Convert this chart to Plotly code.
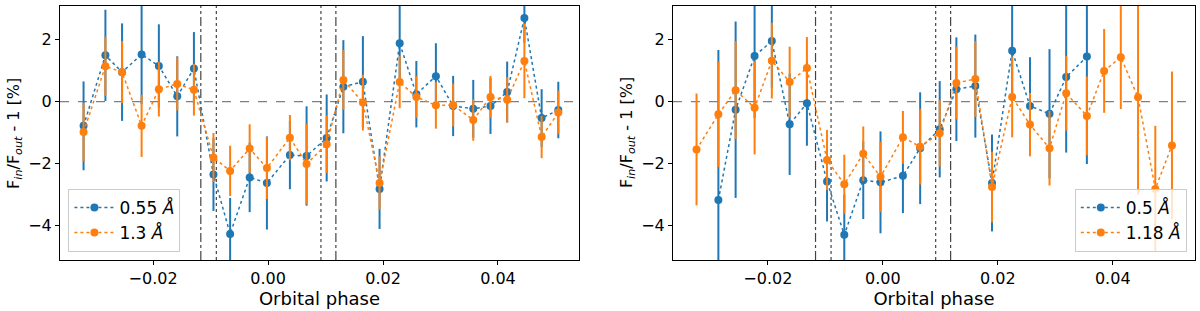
import plotly.graph_objects as go
from plotly.subplots import make_subplots

# ---------- data: left panel ----------
phase_L = [-0.0321, -0.0283, -0.0254, -0.0220, -0.0190, -0.0158, -0.0129, -0.0095, -0.0066,
           -0.0032, -0.0002, 0.0038, 0.0067, 0.0102, 0.0131, 0.0165, 0.0194, 0.0229, 0.0258,
           0.0292, 0.0322, 0.0357, 0.0387, 0.0416, 0.0446, 0.0476, 0.0505]
blue_L = [-0.78, 1.49, 0.95, 1.52, 1.15, 0.17, 1.07, -2.35, -4.26, -2.44, -2.62, -1.72, -1.75,
          -1.17, 0.48, 0.64, -2.81, 1.88, 0.24, 0.82, -0.14, -0.23, -0.14, 0.31, 2.69, -0.53, -0.27]
blue_L_err = [1.43, 1.47, 1.57, 1.60, 1.34, 1.29, 1.17, 1.17, 1.16, 1.12, 1.50, 1.10, 1.60,
              1.40, 1.50, 1.47, 1.29, 1.30, 1.07, 1.06, 0.97, 0.93, 0.90, 0.98, 0.80, 0.93, 0.91]
orange_L = [-0.98, 1.14, 0.95, -0.78, 0.40, 0.57, 0.38, -1.80, -2.23, -1.51, -2.14, -1.16, -2.01,
            -1.37, 0.70, -0.03, -2.62, 0.63, 0.15, -0.12, -0.11, -0.59, 0.15, 0.06, 1.31, -1.14, -0.35]
orange_L_err = [0.94, 0.95, 1.00, 1.00, 0.88, 0.86, 0.83, 0.79, 0.81, 0.78, 1.00, 0.73, 1.30,
                0.93, 0.96, 0.90, 0.86, 0.84, 0.67, 0.75, 0.69, 0.67, 0.68, 0.73, 1.20, 0.68, 0.70]

# ---------- data: right panel ----------
phase_Rb = [-0.0286, -0.0256, -0.0223, -0.0193, -0.0162, -0.0132, -0.0097, -0.0067, -0.0034,
            -0.0004, 0.0035, 0.0065, 0.0099, 0.0128, 0.0161, 0.0190, 0.0225, 0.0256, 0.0290,
            0.0319, 0.0355]
blue_R = [-3.17, -0.26, 1.47, 1.95, -0.73, -0.05, -2.57, -4.29, -2.53, -2.60, -2.39, -1.50,
          -0.89, 0.40, 0.50, -2.62, 1.64, -0.14, -0.39, 0.79, 1.45]
blue_R_err = [4.83, 2.84, 2.00, 1.50, 1.63, 1.37, 1.29, 1.30, 1.25, 1.64, 1.20, 1.80,
              1.55, 1.67, 1.66, 1.56, 1.50, 1.57, 2.08, 2.43, 3.46]
phase_Ro = [-0.0324, -0.0286, -0.0256, -0.0223, -0.0193, -0.0162, -0.0132, -0.0097, -0.0067,
            -0.0034, -0.0004, 0.0035, 0.0065, 0.0099, 0.0128, 0.0161, 0.0190, 0.0225, 0.0256,
            0.0290, 0.0319, 0.0355, 0.0385, 0.0414, 0.0444, 0.0474, 0.0503]
orange_R = [-1.54, -0.41, 0.37, -0.20, 1.32, 0.63, 1.08, -1.88, -2.66, -1.68, -2.42, -1.15,
            -1.45, -1.02, 0.60, 0.73, -2.75, 0.15, -0.74, -1.50, 0.27, -0.46, 0.99, 1.43,
            0.14, -2.81, -1.41]
orange_R_err = [1.80, 1.70, 1.58, 1.50, 1.22, 1.14, 1.00, 0.97, 0.95, 0.88, 1.13, 0.85,
                1.22, 1.07, 1.17, 1.22, 1.14, 1.30, 1.02, 1.20, 1.20, 1.27, 1.35, 1.67,
                3.14, 2.03, 2.38]

labels_L = ["0.55 <i>Å</i>", "1.3 <i>Å</i>"]
labels_R = ["0.5 <i>Å</i>", "1.18 <i>Å</i>"]
y_title = "F<i><sub>in</sub></i>/F<i><sub>out</sub></i> - 1 [%]"

contact_dashdot = [-0.0117, 0.0118]   # T1 / T4
contact_dotted = [-0.0090, 0.0092]    # T2 / T3

x_ticks = [-0.02, 0.00, 0.02, 0.04]
y_ticks = [-4, -2, 0, 2]

BLUE = "#1f77b4"
ORANGE = "#ff7f0e"
FONT = "DejaVu Sans"

fig = make_subplots(rows=1, cols=2)

def add_series(x, y, err, color, name, col, legend):
    fig.add_trace(go.Scatter(
        x=x, y=y, name=name, mode="lines+markers",
        line=dict(color=color, width=1.5, dash="dot"),
        marker=dict(color=color, size=8),
        error_y=dict(type="data", array=err, visible=True, color=color, thickness=2, width=0),
        legend=legend,
    ), row=1, col=col)

add_series(phase_L, blue_L, blue_L_err, BLUE, labels_L[0], 1, "legend")
add_series(phase_L, orange_L, orange_L_err, ORANGE, labels_L[1], 1, "legend")
add_series(phase_Rb, blue_R, blue_R_err, BLUE, labels_R[0], 2, "legend2")
add_series(phase_Ro, orange_R, orange_R_err, ORANGE, labels_R[1], 2, "legend2")

for col, xr in [(1, "x"), (2, "x2")]:
    yr = "y" if col == 1 else "y2"
    fig.add_shape(type="line", xref=f"{xr} domain", yref=yr, x0=0, x1=1, y0=0, y1=0,
                  line=dict(color="#808080", width=1.3, dash="dash"), layer="below")
    for xv in contact_dashdot:
        fig.add_shape(type="line", xref=xr, yref=f"{yr} domain", x0=xv, x1=xv, y0=0, y1=1,
                      line=dict(color="#444444", width=1.2, dash="dashdot"), layer="below")
    for xv in contact_dotted:
        fig.add_shape(type="line", xref=xr, yref=f"{yr} domain", x0=xv, x1=xv, y0=0, y1=1,
                      line=dict(color="#444444", width=1.2, dash="dot"), layer="below")

axis_common = dict(showline=True, linecolor="black", linewidth=1, mirror=True,
                   ticks="outside", ticklen=4, tickcolor="black", showgrid=False,
                   zeroline=False, tickfont=dict(family=FONT, size=16, color="black"))

ytext = ["\u22124", "\u22122", "0", "2"]
xtext = ["\u22120.02", "0.00", "0.02", "0.04"]

fig.update_xaxes(**axis_common, tickvals=x_ticks, ticktext=xtext,
                 title=dict(text="Orbital phase", font=dict(family=FONT, size=18, color="black"), standoff=2))
fig.update_yaxes(**axis_common, tickvals=y_ticks, ticktext=ytext, range=[-5.1, 3.08])
fig.update_xaxes(range=[-0.0362, 0.0541], domain=[0.05, 0.4825], row=1, col=1)
fig.update_xaxes(range=[-0.0365, 0.0543], domain=[0.5608, 0.9958], row=1, col=2)
fig.update_yaxes(domain=[0.164, 0.9807])

# y-axis titles as rotated annotations centred on each panel
for xpos in [0.0115, 0.5225]:
    fig.add_annotation(text=y_title, textangle=-90, xref="paper", yref="paper",
                       x=xpos, y=0.572, xanchor="center", yanchor="middle", showarrow=False,
                       font=dict(family=FONT, size=16, color="black"))

legend_style = dict(font=dict(family=FONT, size=17, color="black"), bgcolor="rgba(255,255,255,0.8)",
                    bordercolor="#cccccc", borderwidth=1, itemwidth=40)

fig.update_layout(
    width=1200, height=311, margin=dict(l=0, r=0, t=0, b=0),
    plot_bgcolor="white", paper_bgcolor="white",
    font=dict(family=FONT, color="black"),
    legend=dict(**legend_style, x=0.057, y=0.19, xanchor="left", yanchor="bottom"),
    legend2=dict(**legend_style, x=0.989, y=0.19, xanchor="right", yanchor="bottom"),
)

fig.write_html("out.html", config={"displayModeBar": False},
               post_script="document.body.style.margin='0';document.body.style.padding='0';document.body.style.overflow='hidden';")
